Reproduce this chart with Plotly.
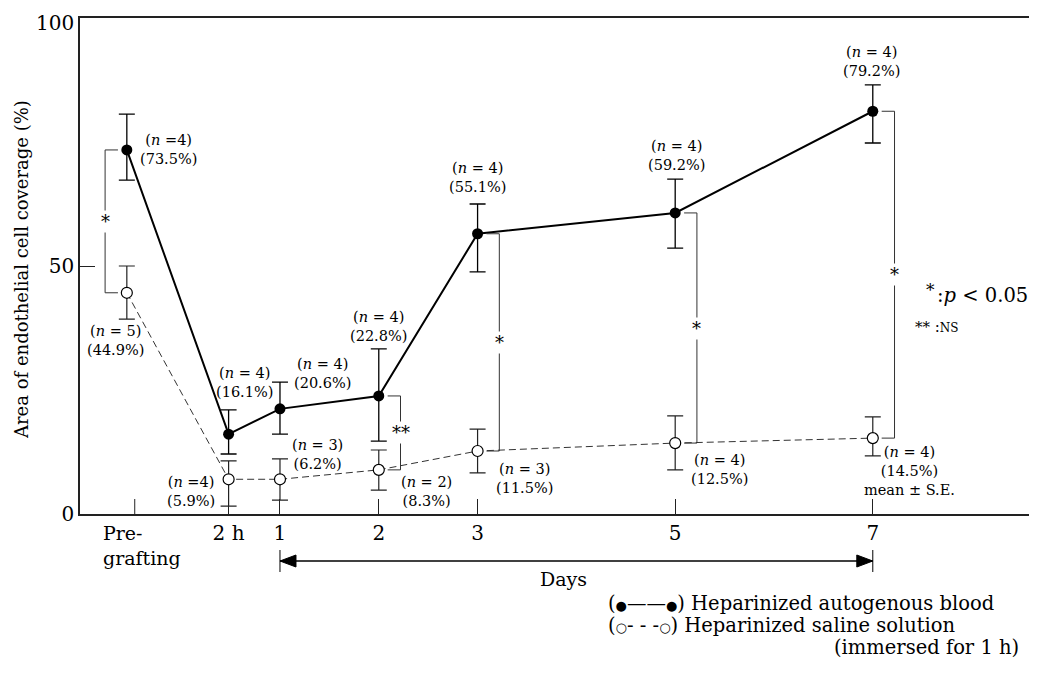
import plotly.graph_objects as go

# ---------------- data ----------------
time_labels = ["Pre-grafting", "2 h", "1", "2", "3", "5", "7"]
time_pos = [-0.55, 0.48, 1, 2, 3, 5, 7]          # position on the day axis
pre_tick = -0.47

blood_mean = [73.4, 16.1, 21.2, 23.8, 56.5, 60.7, 81.2]
blood_hi = [80.6, 21.0, 26.6, 33.3, 62.5, 67.5, 86.5]
blood_lo = [67.3, 12.1, 16.1, 14.7, 48.8, 53.6, 74.8]
blood_n = [4, 4, 4, 4, 4, 4, 4]
blood_pct = ["73.5", "16.1", "20.6", "22.8", "55.1", "59.2", "79.2"]

saline_mean = [44.6, 7.0, 7.0, 8.9, 12.7, 14.3, 15.3]
saline_hi = [50.0, 10.7, 11.1, 12.9, 17.1, 19.8, 19.6]
saline_lo = [39.3, 1.6, 2.8, 4.8, 8.3, 8.9, 11.7]
saline_n = [5, 4, 3, 2, 3, 4, 4]
saline_pct = ["44.9", "5.9", "6.2", "8.3", "11.5", "12.5", "14.5"]

y_ticks = [0, 50, 100]

sig_index = [0, 3, 4, 5, 6]
sig_mark = ["*", "**", "*", "*", "*"]

FONT = "DejaVu Serif"
OFF = 8                      # page body margin in the browser
W, H = 1037, 685 - OFF
L, R, T, B = 80 - OFF, OFF, 18 - OFF, 171
PW, PH = W - L - R, H - T - B


def px(x):   # window pixel -> paper x
    return (x - OFF - L) / PW


def py(y):   # window pixel -> paper y
    return (H - B - (y - OFF)) / PH


fig = go.Figure()

fig.add_trace(go.Scatter(
    x=time_pos, y=saline_mean, mode="lines+markers",
    line=dict(color="#333333", width=1, dash="7px,4px"),
    marker=dict(size=11, color="white", line=dict(color="black", width=1.2)),
    error_y=dict(type="data", symmetric=False,
                 array=[h - m for h, m in zip(saline_hi, saline_mean)],
                 arrayminus=[m - l for m, l in zip(saline_mean, saline_lo)],
                 color="#222222", thickness=1.2, width=8),
    showlegend=False, hoverinfo="skip"))

fig.add_trace(go.Scatter(
    x=time_pos, y=blood_mean, mode="lines+markers",
    line=dict(color="black", width=2),
    marker=dict(size=11, color="black"),
    error_y=dict(type="data", symmetric=False,
                 array=[h - m for h, m in zip(blood_hi, blood_mean)],
                 arrayminus=[m - l for m, l in zip(blood_mean, blood_lo)],
                 color="black", thickness=1.3, width=8),
    showlegend=False, hoverinfo="skip"))

shapes = []
annotations = []


def note(x, y, text, size, xanchor="center", yanchor="middle", **kw):
    annotations.append(dict(x=px(x), y=py(y), xref="paper", yref="paper", text=text,
                            showarrow=False, xanchor=xanchor, yanchor=yanchor,
                            font=dict(family=FONT, size=size, color="black"), **kw))


# significance brackets
for k, i in enumerate(sig_index):
    side = -1 if i == 0 else 1
    xb = time_pos[i] + side * 0.22
    xs = time_pos[i] + side * 0.09
    for (x0, y0, x1, y1) in [(xb, blood_mean[i], xb, saline_mean[i]),
                             (xs, blood_mean[i], xb, blood_mean[i]),
                             (xs, saline_mean[i], xb, saline_mean[i])]:
        shapes.append(dict(type="line", xref="x", yref="y", x0=x0, y0=y0, x1=x1, y1=y1,
                           line=dict(color="#333333", width=1)))
    annotations.append(dict(x=xb, y=(blood_mean[i] + saline_mean[i]) / 2, xref="x", yref="y",
                            text=sig_mark[k], showarrow=False, bgcolor="white",
                            xanchor="center", yanchor="middle",
                            font=dict(family=FONT, size=18, color="black"), borderpad=0))

# point labels (offsets in pixels)
blood_off = [("left", 11, 0), ("center", 16, 52), ("left", 12, 35), ("center", 0, 69),
             ("center", 0, 56), ("center", 1, 57), ("center", -1, 50)]
saline_off = [("center", -11, -48), ("right", -12, -12), ("left", 10, 25), ("left", 20, -22),
              ("left", 16, -27), ("left", 14, -26), ("center", 37, -33)]

LBL = 14.5
for i in range(len(time_pos)):
    a, dx, dy = blood_off[i]
    nt = f"(<i>n</i> ={blood_n[i]})" if i == 0 else f"(<i>n</i> = {blood_n[i]})"
    annotations.append(dict(x=time_pos[i], y=blood_mean[i], xref="x", yref="y",
                            text=f"{nt}<br>({blood_pct[i]}%)",
                            showarrow=False, xanchor=a, yanchor="middle", xshift=dx, yshift=dy,
                            align="center", font=dict(family=FONT, size=LBL, color="black")))
    a, dx, dy = saline_off[i]
    txt = f"(<i>n</i> = {saline_n[i]})<br>({saline_pct[i]}%)"
    if i == 1:
        txt = f"(<i>n</i> ={saline_n[i]})<br>({saline_pct[i]}%)"
    if i == len(time_pos) - 1:
        txt += "<br>mean ± S.E."
    annotations.append(dict(x=time_pos[i], y=saline_mean[i], xref="x", yref="y",
                            text=txt, showarrow=False, xanchor=a, yanchor="middle",
                            xshift=dx, yshift=dy, align="center",
                            font=dict(family=FONT, size=LBL, color="black")))

# Pre-grafting tick mark and label
shapes.append(dict(type="line", xref="x", yref="paper", x0=pre_tick, x1=pre_tick,
                   y0=0, y1=15 / PH, line=dict(color="#222222", width=1)))
note(101, 520, "Pre-<br>grafting", 19, xanchor="left", yanchor="top", align="left")

# top y tick label (kept inside the page)
note(76, 9, str(y_ticks[-1]), 20, xanchor="right", yanchor="top")

# y-axis title
note(21, 270, "Area of endothelial cell coverage (%)", 18, textangle=-90)

# Days arrow: shaft, end bars and filled heads
ay = py(561)
shapes.append(dict(type="line", xref="x", yref="paper", x0=time_pos[2], x1=time_pos[-1],
                   y0=ay, y1=ay, line=dict(color="black", width=1.3)))
for xa, sgn in [(time_pos[2], 1), (time_pos[-1], -1)]:
    shapes.append(dict(type="line", xref="x", yref="paper", x0=xa, x1=xa,
                       y0=py(550), y1=py(572), line=dict(color="black", width=1)))
    shapes.append(dict(type="path", xref="x", yref="paper", xsizemode="pixel", ysizemode="pixel",
                       xanchor=xa, yanchor=ay,
                       path=f"M0,0 L{sgn * 16},6 L{sgn * 16},-6 Z",
                       fillcolor="black", line=dict(color="black", width=1)))
note(563, 579, "Days", 19)

# significance key
note(930, 290, "*", 17)
note(1030, 295, ":<i>p</i> < 0.05", 19.5, xanchor="right")
note(913, 327, "** :<span style='font-size:12px'>NS</span>", 15, xanchor="left")

# legend text
dot = "<span style='font-size:13px'>●</span>"
ring = "<span style='font-size:13px'>○</span>"
note(606, 603, f"({dot}——{dot}) Heparinized autogenous blood", 19.5, xanchor="left")
note(606, 625, f"({ring}- - -{ring}) Heparinized saline solution", 19.5, xanchor="left")
note(1021, 647, "(immersed for 1 h)", 19.5, xanchor="right")

fig.update_layout(
    width=W, height=H, margin=dict(l=L, r=R, t=T, b=B, autoexpand=False),
    paper_bgcolor="white", plot_bgcolor="white",
    font=dict(family=FONT, color="black"),
    shapes=shapes, annotations=annotations,
    xaxis=dict(range=[-1.024, 8.662], showgrid=False, zeroline=False, automargin=False,
               showline=True, mirror=True, linecolor="#222222", linewidth=1.5,
               tickmode="array", tickvals=time_pos[1:], ticktext=time_labels[1:],
               ticks="inside", ticklen=15, tickwidth=1, tickcolor="#222222",
               tickfont=dict(family=FONT, size=20, color="black")),
    yaxis=dict(range=[y_ticks[0], y_ticks[-1]], showgrid=False, zeroline=False, automargin=False,
               showline=True, linecolor="#222222", linewidth=1.5,
               tickmode="array", tickvals=y_ticks[:-1], ticktext=[str(v) for v in y_ticks[:-1]],
               ticks="inside", ticklen=15, tickwidth=1, tickcolor="#222222",
               tickfont=dict(family=FONT, size=20, color="black")),
)

fig.write_html("out.html")
